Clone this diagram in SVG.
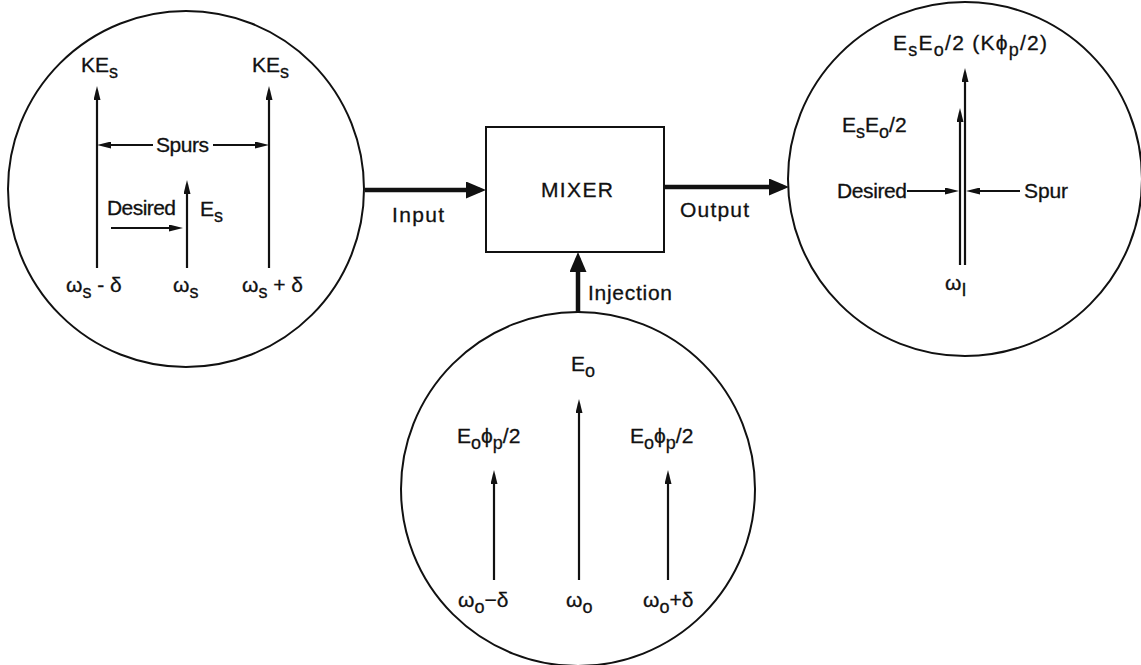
<svg xmlns="http://www.w3.org/2000/svg" width="1141" height="665" viewBox="0 0 1141 665">
<style>
.c{fill:none;stroke:#111;stroke-width:2}
.t{font-family:"Liberation Sans",Arial,sans-serif;font-size:21px;fill:#111;stroke:#111;stroke-width:0.3}
.s{font-size:18px}
.ln{stroke:#111;stroke-width:2.2;fill:none}
.tk{stroke:#111;stroke-width:4.5;fill:none}
</style>
<defs>
<marker id="ah" markerUnits="userSpaceOnUse" viewBox="0 0 14 7" markerWidth="14" markerHeight="7" refX="9.6" refY="3.5" orient="auto"><path d="M0,0 L14,3.5 L0,7 Z" fill="#111"/></marker>
<marker id="ahT" markerUnits="userSpaceOnUse" viewBox="0 0 20 17" markerWidth="20" markerHeight="17" refX="14" refY="8.5" orient="auto"><path d="M0,0 L20,8.5 L0,17 Z" fill="#111"/></marker>
</defs>
<rect width="1141" height="665" fill="#fff"/>

<g id="input-spectrum">
<circle class="c" cx="186" cy="189" r="178"/>
<path class="ln" d="M97,268 V90.4" marker-end="url(#ah)"/>
<path class="ln" d="M269,268 V90.4" marker-end="url(#ah)"/>
<path class="ln" d="M187,268 V184.4" marker-end="url(#ah)"/>
<path class="ln" d="M153,145 H101.4" marker-end="url(#ah)"/>
<path class="ln" d="M213,145 H264.6" marker-end="url(#ah)"/>
<path class="ln" d="M111,228 H178.6" marker-end="url(#ah)"/>
<text class="t" x="81" y="72">KE<tspan class="s" dy="6">s</tspan></text>
<text class="t" x="252" y="72">KE<tspan class="s" dy="6">s</tspan></text>
<text class="t" x="156" y="152" textLength="53" lengthAdjust="spacing">Spurs</text>
<text class="t" x="107" y="215" textLength="69" lengthAdjust="spacing">Desired</text>
<text class="t" x="200" y="216">E<tspan class="s" dy="6">s</tspan></text>
<text class="t" x="66" y="292">ω<tspan class="s" dy="6">s</tspan><tspan dy="-6"> - δ</tspan></text>
<text class="t" x="173" y="292">ω<tspan class="s" dy="6">s</tspan></text>
<text class="t" x="242" y="292">ω<tspan class="s" dy="6">s</tspan><tspan dy="-6"> + δ</tspan></text>
</g>

<g id="mixer">
<rect class="c" x="486" y="127" width="178" height="125"/>
<text class="t" x="541" y="197" textLength="72" lengthAdjust="spacing">MIXER</text>
</g>

<g id="output-spectrum">
<circle class="c" cx="965" cy="179" r="177"/>
<path class="ln" d="M960,265 V112.4" marker-end="url(#ah)"/>
<path class="ln" d="M965,265 V72.4" marker-end="url(#ah)"/>
<path class="ln" d="M907,191 H954.6" marker-end="url(#ah)"/>
<path class="ln" d="M1020,191 H970.4" marker-end="url(#ah)"/>
<text class="t" x="893" y="50" textLength="154" lengthAdjust="spacing">E<tspan class="s" dy="6">s</tspan><tspan dy="-6">E</tspan><tspan class="s" dy="6">o</tspan><tspan dy="-6">/2 (Kϕ</tspan><tspan class="s" dy="6">p</tspan><tspan dy="-6">/2)</tspan></text>
<text class="t" x="842" y="132">E<tspan class="s" dy="6">s</tspan><tspan dy="-6">E</tspan><tspan class="s" dy="6">o</tspan><tspan dy="-6">/2</tspan></text>
<text class="t" x="837" y="198" textLength="70" lengthAdjust="spacing">Desired</text>
<text class="t" x="1024" y="198" textLength="44" lengthAdjust="spacing">Spur</text>
<text class="t" x="945" y="290">ω<tspan class="s" dy="6">I</tspan></text>
</g>

<g id="injection-spectrum">
<circle class="c" cx="578" cy="489" r="177"/>
<path class="ln" d="M579,580 V403.4" marker-end="url(#ah)"/>
<path class="ln" d="M494,580 V474.4" marker-end="url(#ah)"/>
<path class="ln" d="M668,580 V474.4" marker-end="url(#ah)"/>
<text class="t" x="571" y="371">E<tspan class="s" dy="6">o</tspan></text>
<text class="t" x="457" y="443">E<tspan class="s" dy="6">o</tspan><tspan dy="-6">ϕ</tspan><tspan class="s" dy="6">p</tspan><tspan dy="-6">/2</tspan></text>
<text class="t" x="630" y="443">E<tspan class="s" dy="6">o</tspan><tspan dy="-6">ϕ</tspan><tspan class="s" dy="6">p</tspan><tspan dy="-6">/2</tspan></text>
<text class="t" x="458" y="607">ω<tspan class="s" dy="6">o</tspan><tspan dy="-6">−δ</tspan></text>
<text class="t" x="566" y="607">ω<tspan class="s" dy="6">o</tspan></text>
<text class="t" x="643" y="607">ω<tspan class="s" dy="6">o</tspan><tspan dy="-6">+δ</tspan></text>
</g>

<g id="connectors">
<path class="tk" d="M365,190 H480" marker-end="url(#ahT)"/>
<path class="tk" d="M664,187 H783" marker-end="url(#ahT)"/>
<path class="tk" d="M578,312 V258" marker-end="url(#ahT)"/>
<text class="t" x="392" y="222" textLength="52" lengthAdjust="spacing">Input</text>
<text class="t" x="680" y="217" textLength="69" lengthAdjust="spacing">Output</text>
<text class="t" x="588" y="300" textLength="84" lengthAdjust="spacing">Injection</text>
</g>
</svg>
